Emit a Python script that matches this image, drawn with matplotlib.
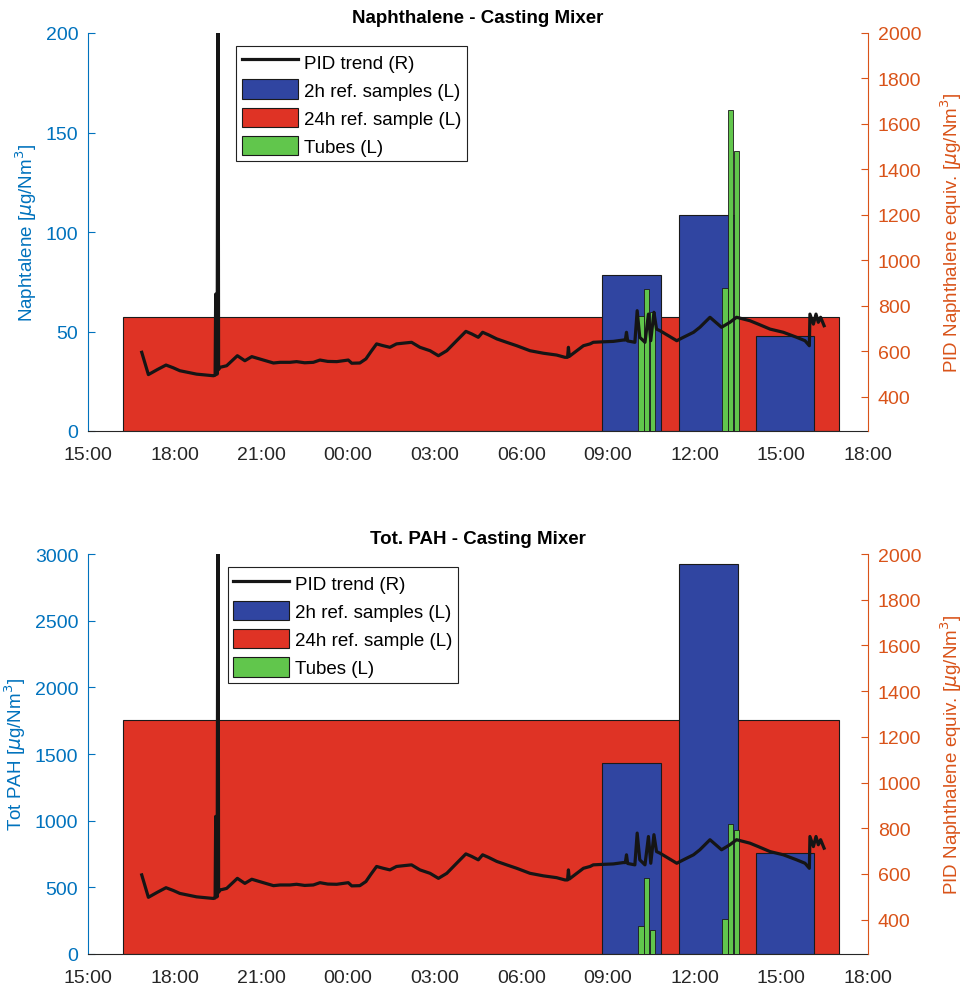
import matplotlib
matplotlib.use("Agg")
import matplotlib.pyplot as plt
from matplotlib.patches import Patch
from matplotlib.lines import Line2D

plt.rcParams['font.family'] = ['Liberation Sans', 'DejaVu Sans']
plt.rcParams['mathtext.fontset'] = 'dejavusans'

# ---------------- data (hours since 15:00 on day 1) ----------------
tick_hours = [0, 3, 6, 9, 12, 15, 18, 21, 24, 27]
tick_labels = ['15:00', '18:00', '21:00', '00:00', '03:00', '06:00',
               '09:00', '12:00', '15:00', '18:00']

# PID trend (right axis, ug/Nm3 naphthalene equiv.)
pid_t = [1.86, 2.09, 2.40, 2.70, 2.95, 3.18, 3.76, 4.34, 4.40, 4.42, 4.47, 4.50, 4.52, 4.57,
         4.80, 5.17, 5.43, 5.67, 6.07, 6.42, 6.65, 6.99, 7.22, 7.50, 7.80, 8.03, 8.30,
         8.61, 9.01, 9.13, 9.41, 9.62, 9.80, 9.99, 10.22, 10.45, 10.68, 10.97, 11.20,
         11.49, 11.84, 12.13, 12.42, 12.76, 13.08, 13.28, 13.51, 13.66, 13.86, 14.15,
         14.49, 14.84, 15.30, 15.76, 16.22, 16.51, 16.60, 16.63, 16.66, 16.92, 17.15,
         17.38, 17.49, 17.80, 18.18, 18.53, 18.60, 18.64, 18.68, 18.93, 19.01, 19.10,
         19.28, 19.40, 19.48, 19.59, 19.68, 19.80, 20.09, 20.38, 20.61, 20.96, 21.18,
         21.53, 21.93, 22.22, 22.45, 22.91, 23.20, 23.61, 24.07, 24.53, 24.82, 24.97,
         24.99, 25.11, 25.20, 25.28, 25.36, 25.48]
pid_v = [596, 498, 520, 540, 528, 515, 500, 493, 495, 852, 500, 2500, 520, 530,
         537, 581, 559, 577, 562, 549, 552, 552, 555, 550, 552, 562, 556,
         555, 562, 548, 549, 567, 600, 633, 625, 618, 633, 637, 640,
         618, 603, 581, 603, 647, 688, 677, 662, 684, 673, 655,
         640, 625, 603, 592, 584, 574, 574, 618, 578, 603, 625,
         633, 640, 642, 644, 650, 650, 684, 646, 640, 779, 662,
         640, 764, 647, 772, 698, 691, 669, 647, 662, 684, 706,
         750, 706, 728, 750, 735, 720, 698, 684, 662, 647, 625,
         764, 720, 764, 728, 750, 713]

# 24h reference sample (start hour, duration, value)
ref24_start = [1.21]
ref24_dur = [24.79]
ref24_naph = [57.3]
ref24_pah = [1755]

# 2h reference samples
ref2_start = [17.80, 20.47, 23.12]
ref2_dur = [2.02, 2.02, 2.00]
ref2_naph = [78.5, 108.5, 47.6]
ref2_pah = [1430, 2925, 755]

# Tubes
tube_start = [19.05, 19.25, 19.45, 21.96, 22.16, 22.35]
tube_dur = [0.18, 0.18, 0.18, 0.18, 0.18, 0.18]
tube_naph = [57.6, 71.4, 60.0, 72.0, 161.3, 140.5]
tube_pah = [212, 568, 180, 262, 975, 930]

BLUE_AX = '#0072BD'
ORANGE_AX = '#D95319'
C_BLUE = '#3045a1'
C_RED = '#df3325'
C_GREEN = '#61c64c'
EDGE = '#1a1a1a'
FS = 14
LFS = 13.5

fig = plt.figure(figsize=(9.73, 9.87), dpi=100)
W = 973.0
H = 987.0
positions = [
    [88 / W, 1 - 432 / H, 780 / W, 398 / H],
    [88 / W, 1 - 955 / H, 780 / W, 400 / H],
]

panels = [
    dict(title='Naphthalene - Casting Mixer', ylabel='Naphtalene [$\\mu$g/Nm$^3$]',
         r24=ref24_naph, r2=ref2_naph, tb=tube_naph, ylim=(0, 200),
         yticks=[0, 50, 100, 150, 200], leg=(0.19, 0.968)),
    dict(title='Tot. PAH - Casting Mixer', ylabel='Tot PAH [$\\mu$g/Nm$^3$]',
         r24=ref24_pah, r2=ref2_pah, tb=tube_pah, ylim=(0, 3000),
         yticks=[0, 500, 1000, 1500, 2000, 2500, 3000], leg=(0.179, 0.968)),
]

for pos, p in zip(positions, panels):
    ax = fig.add_axes(pos)
    ax.bar(ref24_start, p['r24'], width=ref24_dur, align='edge', color=C_RED,
           edgecolor=EDGE, linewidth=0.8, zorder=1)
    ax.bar(ref2_start, p['r2'], width=ref2_dur, align='edge', color=C_BLUE,
           edgecolor=EDGE, linewidth=0.8, zorder=2)
    ax.bar(tube_start, p['tb'], width=tube_dur, align='edge', color=C_GREEN,
           edgecolor=EDGE, linewidth=0.6, zorder=3)
    ax.set_xlim(0, 27)
    ax.set_ylim(*p['ylim'])
    ax.set_yticks(p['yticks'])
    ax.set_xticks(tick_hours)
    ax.set_xticklabels(tick_labels)
    ax.set_ylabel(p['ylabel'], color=BLUE_AX, fontsize=LFS, labelpad=5)
    ax.set_title(p['title'], fontsize=13.5, fontweight='bold', pad=8)

    ax2 = ax.twinx()
    ax2.plot(pid_t, pid_v, color='#151515', linewidth=2.3, zorder=5)
    ax2.set_ylim(250, 2000)
    ax2.set_yticks(list(range(400, 2001, 200)))
    ax2.set_ylabel('PID Naphthalene equiv. [$\\mu$g/Nm$^3$]', color=ORANGE_AX,
                   fontsize=LFS, labelpad=12)

    for a in (ax, ax2):
        a.spines['top'].set_visible(False)
    ax.spines['right'].set_visible(False)
    ax2.spines['left'].set_visible(False)
    ax2.spines['bottom'].set_visible(False)
    ax.spines['left'].set_color(BLUE_AX)
    ax2.spines['right'].set_color(ORANGE_AX)
    ax.spines['bottom'].set_color('#262626')
    ax.tick_params(axis='y', colors=BLUE_AX, direction='in', labelsize=FS, length=5, pad=7)
    ax.tick_params(axis='x', colors='#262626', direction='in', labelsize=FS, length=0, pad=11)
    ax2.tick_params(axis='y', colors=ORANGE_AX, direction='in', labelsize=FS, length=5, pad=7)

    handles = [Line2D([0], [0], color='#151515', linewidth=2.3),
               Patch(facecolor=C_BLUE, edgecolor=EDGE, linewidth=0.8),
               Patch(facecolor=C_RED, edgecolor=EDGE, linewidth=0.8),
               Patch(facecolor=C_GREEN, edgecolor=EDGE, linewidth=0.8)]
    labels = ['PID trend (R)', '2h ref. samples (L)', '24h ref. sample (L)', 'Tubes (L)']
    leg = ax2.legend(handles, labels, loc='upper left', bbox_to_anchor=p['leg'],
                     fontsize=LFS, frameon=True, fancybox=False, framealpha=1,
                     edgecolor='#222222', handlelength=3.0, handleheight=1.25,
                     handletextpad=0.3, borderpad=0.3, labelspacing=0.42,
                     borderaxespad=0)
    leg.get_frame().set_linewidth(0.8)
    leg.set_zorder(10)

fig.savefig('out.png', dpi=100)
